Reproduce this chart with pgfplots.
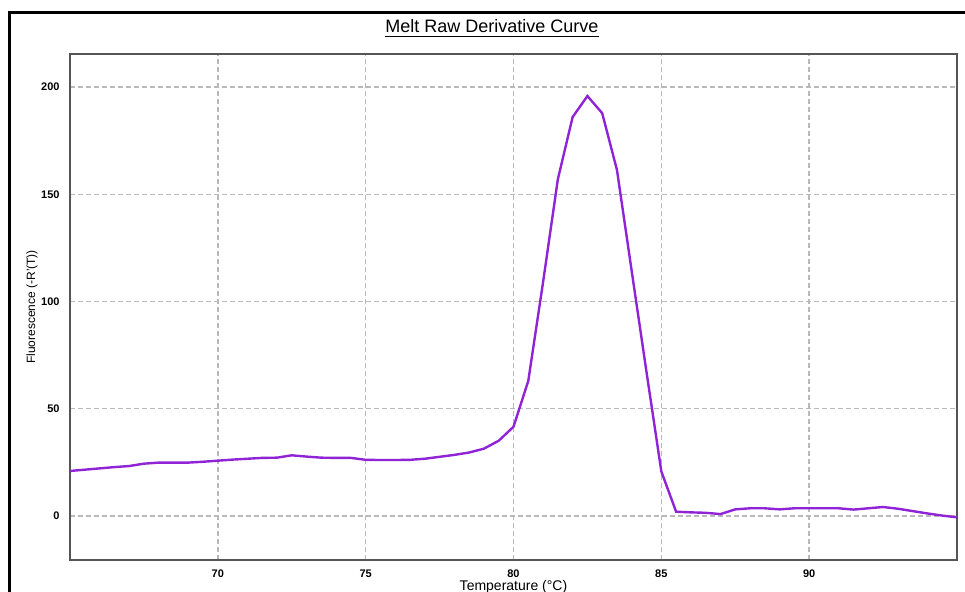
\documentclass[border=0pt]{standalone}
\usepackage{fontspec}
\setmainfont{Liberation Sans}
\usepackage{pgfplots}
\pgfplotsset{compat=1.18}
\definecolor{curve}{RGB}{145,35,215}
\definecolor{gridgray}{RGB}{185,185,185}
\definecolor{framegray}{RGB}{85,85,85}

\begin{document}
\begin{tikzpicture}
\begin{axis}[
    scale only axis,
    width=443.5pt, height=253pt,
    xmin=65, xmax=95,
    ymin=-20.5, ymax=215.4,
    xtick={70,75,80,85,90},
    ytick={0,50,100,150,200},
    grid=major,
    major grid style={gridgray, line width=0.7pt, dash pattern=on 2.5pt off 1.5pt},
    axis line style={framegray, line width=0.8pt},
    major tick length=0pt,
    /pgf/number format/assume math mode=true,
    ticklabel style={font=\fontsize{5.5}{6}\selectfont\bfseries},
    xticklabel style={yshift=-1.3pt},
    yticklabel style={xshift=-1.7pt},
    xlabel={Temperature (°C)},
    ylabel={Fluorescence (-R'(T))},
    xlabel style={font=\fontsize{7}{8}\selectfont, at={(axis description cs:0.5,-0.0525)}, anchor=center},
    ylabel style={font=\fontsize{6}{7}\selectfont, at={(axis description cs:-0.0428,0.5)}, anchor=center},
]
\addplot[curve, line width=1.2pt] coordinates {
    (65.0,21.0) (65.5,21.6) (66.0,22.2) (66.5,22.8) (67.0,23.3) (67.5,24.4)
    (68.0,24.9) (68.5,24.9) (69.0,24.9) (69.5,25.3) (70.0,25.8) (70.5,26.3)
    (71.0,26.7) (71.5,27.1) (72.0,27.2) (72.5,28.3) (73.0,27.7) (73.5,27.2)
    (74.0,27.1) (74.5,27.1) (75.0,26.2) (75.5,26.1) (76.0,26.1) (76.5,26.2)
    (77.0,26.7) (77.5,27.6) (78.0,28.5) (78.5,29.6) (79.0,31.4) (79.5,35.1)
    (80.0,41.6) (80.5,63.0) (81.0,109.0) (81.5,157.0) (82.0,186.0) (82.5,195.8)
    (83.0,187.8) (83.5,161.3) (84.0,114.0) (84.5,67.0) (85.0,20.8) (85.5,2.0)
    (86.0,1.7) (86.5,1.5) (87.0,0.9) (87.5,3.1) (88.0,3.6) (88.5,3.6)
    (89.0,3.1) (89.5,3.6) (90.0,3.6) (90.5,3.6) (91.0,3.6) (91.5,3.0)
    (92.0,3.6) (92.5,4.2) (93.0,3.4) (93.5,2.3) (94.0,1.2) (94.5,0.2)
    (95.0,-0.6)
};
\end{axis}
% title and outer frame
\node[font=\fontsize{9}{10}\selectfont, anchor=base] at (211pt,263.5pt) {\underline{Melt Raw Derivative Curve}};
\draw[black, line width=1.5pt] (-30pt,-40pt) rectangle (452pt,273.5pt);
\pgfresetboundingbox
\path[use as bounding box] (-35pt,-16pt) rectangle (447.5pt,280pt);
\end{tikzpicture}
\end{document}
